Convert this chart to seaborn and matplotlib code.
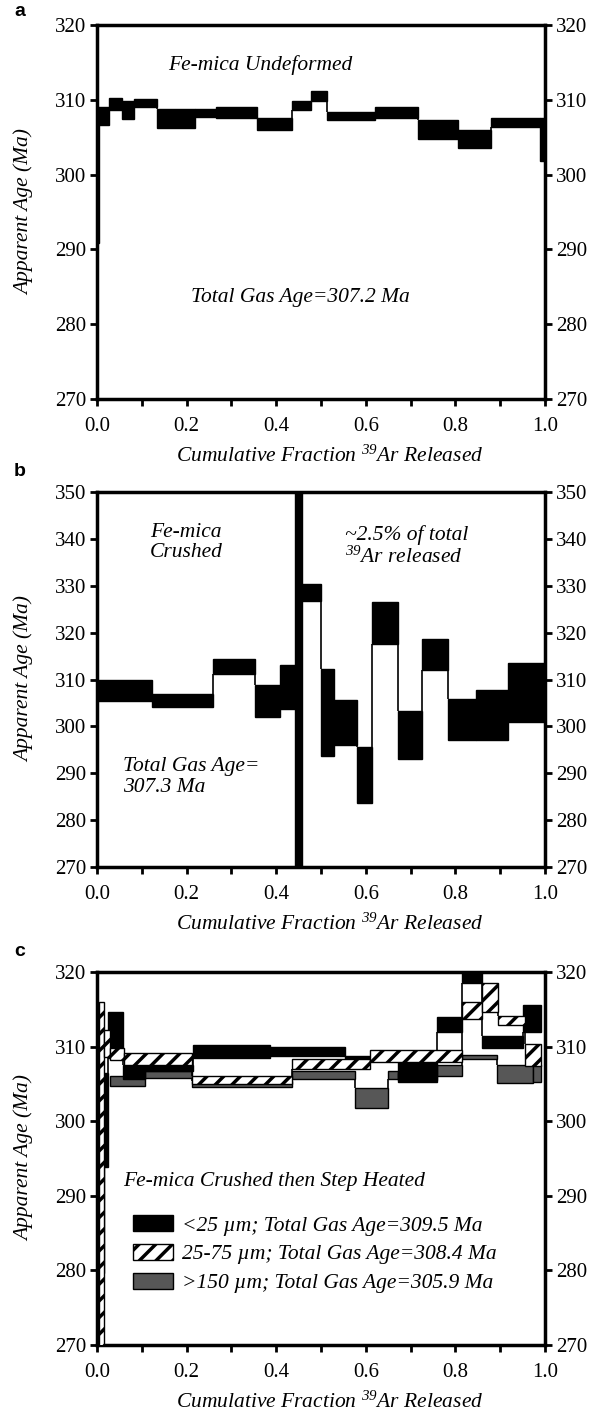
import numpy as np
import matplotlib
matplotlib.use("Agg")
import matplotlib.pyplot as plt
import seaborn as sns
from matplotlib.patches import Patch

# ---------------- data ----------------
# Panel a: Fe-mica undeformed (step edges in cumulative 39Ar fraction, age box lo/hi in Ma)
edges_a = [0.0, 0.005, 0.027, 0.055, 0.082, 0.133, 0.218, 0.265, 0.358, 0.436,
           0.477, 0.514, 0.62, 0.717, 0.806, 0.879, 0.989, 1.0]
lo_a = [290.8, 306.6, 308.7, 307.4, 309.1, 306.2, 307.7, 307.6, 306.0, 308.7,
        309.9, 307.3, 307.6, 304.8, 303.6, 306.4, 301.8]
hi_a = [309.0, 309.1, 310.2, 309.8, 310.1, 308.8, 308.8, 309.1, 307.6, 309.8,
        311.2, 308.4, 309.0, 307.3, 305.9, 307.6, 307.6]

# Panel b: Fe-mica crushed
edges_b = [0.0, 0.123, 0.26, 0.353, 0.409, 0.442, 0.457, 0.5, 0.529, 0.58,
           0.613, 0.671, 0.725, 0.783, 0.845, 0.918, 1.0]
lo_b = [305.4, 304.1, 311.1, 302.1, 303.8, 262.0, 326.7, 293.6, 296.0, 283.7,
        317.6, 293.1, 312.0, 297.2, 297.2, 300.9]
hi_b = [310.0, 307.0, 314.4, 308.9, 313.0, 362.0, 330.4, 312.3, 305.7, 295.5,
        326.5, 303.3, 318.7, 305.9, 307.7, 313.6]

# Panel c: crushed then step heated, three grain sizes
edges_c1 = [0.004, 0.015, 0.025, 0.057, 0.108, 0.215, 0.387, 0.554, 0.672, 0.758,
            0.814, 0.859, 0.951, 0.992]
lo_c1 = [279.7, 293.8, 308.5, 305.6, 306.7, 308.5, 308.8, 308.3, 305.3, 312.0,
         318.5, 309.8, 312.0]
hi_c1 = [303.5, 306.5, 314.7, 307.6, 307.5, 310.2, 310.0, 308.7, 308.0, 314.0,
         320.6, 311.4, 315.6]

edges_c2 = [0.005, 0.015, 0.029, 0.060, 0.212, 0.435, 0.609, 0.814, 0.859, 0.895,
            0.955, 0.992]
lo_c2 = [262.0, 308.6, 308.2, 307.6, 305.0, 307.0, 308.0, 313.7, 314.7, 312.9, 307.4]
hi_c2 = [316.0, 312.2, 309.8, 309.2, 306.1, 308.4, 309.6, 316.0, 318.5, 314.1, 310.3]

edges_c3 = [0.029, 0.108, 0.212, 0.435, 0.576, 0.650, 0.672, 0.758, 0.814, 0.892,
            0.974, 0.992]
lo_c3 = [304.7, 305.8, 304.6, 305.6, 301.8, 305.6, 305.5, 306.0, 308.3, 305.1, 305.3]
hi_c3 = [306.1, 306.7, 305.4, 306.7, 304.5, 306.7, 306.5, 307.6, 308.9, 307.6, 307.6]

labels_c = ["<25 µm; Total Gas Age=309.5 Ma",
            "25-75 µm; Total Gas Age=308.4 Ma",
            ">150 µm; Total Gas Age=305.9 Ma"]

xticks = [0.0, 0.2, 0.4, 0.6, 0.8, 1.0]

# ---------------- style ----------------
sns.set_theme(style="ticks")
plt.rcParams['font.family'] = ['Liberation Serif', 'DejaVu Serif']
plt.rcParams['mathtext.fontset'] = 'custom'
plt.rcParams['mathtext.rm'] = 'Liberation Serif:italic'
plt.rcParams['mathtext.it'] = 'Liberation Serif:italic'
plt.rcParams['mathtext.default'] = 'it'
plt.rcParams['hatch.linewidth'] = 2.5
plt.rcParams['hatch.color'] = 'black'

GRAY = '#575757'
TXT = 15.5
TICK = 15

fig = plt.figure(figsize=(5.93, 14.12), dpi=100)
W, H = 593.0, 1412.0


def make_axes(top_px, bottom_px):
    return fig.add_axes([97 / W, 1 - bottom_px / H, 448 / W, (bottom_px - top_px) / H])


def style_axes(ax, ymin, ymax):
    ax.set_xlim(0, 1)
    ax.set_ylim(ymin, ymax)
    ax.set_xticks(xticks)
    ax.set_xticklabels([f"{v:.1f}" for v in xticks])
    ax.set_xticks(np.arange(0, 1.001, 0.1), minor=True)
    ax.set_yticks(np.arange(ymin, ymax + 1, 10))
    ax.tick_params(which='both', direction='out', length=5, width=2,
                   color='black', labelcolor='black', labelsize=TICK)
    ax.tick_params(axis='y', which='both', right=True, labelright=True, pad=3)
    ax.tick_params(axis='x', which='both', pad=8)
    for s in ax.spines.values():
        s.set_linewidth(2.5)
        s.set_color('black')
    ax.set_facecolor('white')
    ax.grid(False)
    ax.set_xlabel(r"Cumulative Fraction $^{39}$Ar Released", fontstyle='italic',
                  fontsize=TXT, color='black', va='top')
    ax.xaxis.set_label_coords(0.52, -0.125)
    ax.set_ylabel("Apparent Age (Ma)", fontstyle='italic', fontsize=TXT, color='black')
    ax.yaxis.set_label_coords(-0.14, 0.5)


def draw_steps(ax, edges, lo, hi, face, hatch=None, z=2, lw=1.0):
    edges = np.asarray(edges)
    lo = np.asarray(lo)
    hi = np.asarray(hi)
    ax.bar(edges[:-1], hi - lo, width=np.diff(edges), bottom=lo, align='edge',
           color=face, edgecolor='black', linewidth=lw, hatch=hatch, zorder=z)
    # connector lines between consecutive steps
    for i in range(len(lo) - 1):
        x = edges[i + 1]
        if lo[i] > hi[i + 1]:
            ax.vlines(x, hi[i + 1], lo[i], color='black', lw=1.2, zorder=z + 0.5)
        elif hi[i] < lo[i + 1]:
            ax.vlines(x, hi[i], lo[i + 1], color='black', lw=1.2, zorder=z + 0.5)


# ---------------- panel a ----------------
ax_a = make_axes(25, 399)
draw_steps(ax_a, edges_a, lo_a, hi_a, 'black')
style_axes(ax_a, 270, 320)
ax_a.text(0.364, 314.7, "Fe-mica Undeformed", fontstyle='italic', fontsize=TXT,
          ha='center', va='center', color='black')
ax_a.text(0.455, 283.6, "Total Gas Age=307.2 Ma", fontstyle='italic', fontsize=TXT,
          ha='center', va='center', color='black')

# ---------------- panel b ----------------
ax_b = make_axes(492, 867)
draw_steps(ax_b, edges_b, lo_b, hi_b, 'black')
style_axes(ax_b, 270, 350)
ax_b.text(0.118, 339.2, "Fe-mica\nCrushed", fontstyle='italic', fontsize=TXT,
          ha='left', va='center', color='black', linespacing=1.1)
ax_b.text(0.553, 338.4, "~2.5% of total\n$^{39}$Ar released", fontstyle='italic',
          fontsize=TXT, ha='left', va='center', color='black', linespacing=1.1)
ax_b.text(0.058, 289.2, "Total Gas Age=\n307.3 Ma", fontstyle='italic', fontsize=TXT,
          ha='left', va='center', color='black', linespacing=1.1)

# ---------------- panel c ----------------
ax_c = make_axes(972, 1345)
draw_steps(ax_c, edges_c3, lo_c3, hi_c3, GRAY, z=2)
draw_steps(ax_c, edges_c1, lo_c1, hi_c1, 'black', z=3)
draw_steps(ax_c, edges_c2, lo_c2, hi_c2, 'white', hatch='//', z=4)
style_axes(ax_c, 270, 320)
ax_c.text(0.058, 291.9, "Fe-mica Crushed then Step Heated", fontstyle='italic',
          fontsize=TXT, ha='left', va='center', color='black')
handles = [Patch(facecolor='black', edgecolor='black', lw=1.0),
           Patch(facecolor='white', edgecolor='black', hatch='//', lw=1.0),
           Patch(facecolor=GRAY, edgecolor='black', lw=1.0)]
leg = ax_c.legend(handles, labels_c, loc='upper left', bbox_to_anchor=(0.062, 0.372),
                  frameon=False, fontsize=TXT, handlelength=1.85, handleheight=0.8,
                  labelspacing=0.38, handletextpad=0.4, borderaxespad=0)
for t in leg.get_texts():
    t.set_fontstyle('italic')
    t.set_color('black')

# panel letters
for letter, ypx in (("a", 12), ("b", 472), ("c", 951)):
    fig.text(20 / W, 1 - ypx / H, letter, fontsize=14, fontweight='bold',
             family=['Liberation Sans', 'DejaVu Sans'], ha='center', va='center',
             color='black')

fig.savefig("out.png", dpi=100, facecolor='white')
